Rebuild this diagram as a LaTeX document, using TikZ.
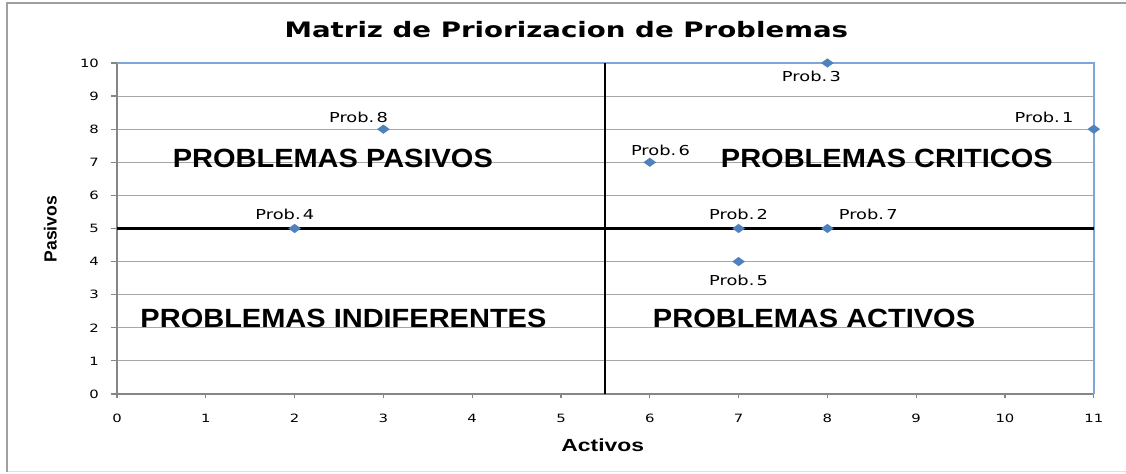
\documentclass[tikz,border=0pt]{standalone}
\usepackage{fontspec}
\usepackage{tikz}
\usetikzlibrary{shapes.geometric}
\usetikzlibrary{calc}
\newfontfamily\verdfont[FakeStretch=1.3]{DejaVu Sans}
\newfontfamily\arialfont[FakeStretch=1.3]{Liberation Sans}
\newfontfamily\quadfont[FakeStretch=1.1]{Liberation Sans}
\newfontfamily\plainarial{Liberation Sans}
\definecolor{markblue}{HTML}{4F81BD}
\definecolor{bordblue}{HTML}{7EA6D8}
\definecolor{gridgray}{HTML}{A6A6A6}
\definecolor{axisgray}{HTML}{868686}

\begin{document}
\begin{tikzpicture}[x=1.776cm,y=0.662cm]
      \tikzstyle{gridline} = [gridgray,line width=0.6pt]
      \tikzstyle{axisline} = [axisgray,line width=0.7pt]
      \tikzstyle{divider}  = [black,line width=1.2pt]
      \tikzstyle{plotedge} = [bordblue,line width=0.9pt]
      \tikzstyle{probmark}=[
        diamond,
        fill=markblue,
        inner sep=0pt,
        minimum width=7.4pt,
        minimum height=5.4pt,
      ]
      \tikzstyle{plabel}=[inner sep=0pt,font=\verdfont\fontsize{7.8}{9}\selectfont]
      \tikzstyle{ticklabel}=[inner sep=0pt,font=\verdfont\fontsize{6.5}{8}\selectfont]
      \tikzstyle{quadlabel}=[font=\quadfont\bfseries\fontsize{15}{18}\selectfont]

      \useasboundingbox (-1.318,-2.417) rectangle (11.363,11.903);
      % chart frame
      \draw[black!12,line width=0.6pt] (-1.239,-2.356) -- (11.363,-2.356);
      \draw[gray!75,line width=0.8pt] (-1.239,-2.356) -- (-1.239,11.81) -- (11.363,11.81);

      \node[font=\verdfont\bfseries\fontsize{12.1}{14}\selectfont] (title) at (5.06,11.0) {Matriz de Priorizacion de Problemas};

      % grid and axes
      \foreach \y in {1,...,9}
        \draw[gridline] (0,\y) -- (11,\y);
      \foreach \y in {0,...,10} {
        \draw[axisline] (-0.07,\y) -- (0,\y);
        \node[ticklabel,anchor=east] at (-0.2,\y) {\y};
      }
      \foreach \x in {0,...,11} {
        \draw[axisline] (\x,0) -- (\x,-0.13);
        \node[ticklabel] at (\x,-0.73) {\x};
      }
      \draw[axisline] (0,0) -- (11,0);
      \draw[axisline] (0,0) -- (0,10);
      \draw[plotedge] (0,10) -- (11,10) -- (11,0);

      \node[rotate=90,font=\plainarial\bfseries\fontsize{10}{12}\selectfont] (ylab) at (-0.75,4.98) {Pasivos};
      \node[font=\arialfont\bfseries\fontsize{10}{12}\selectfont] (xlab) at (5.47,-1.54) {Activos};

      % quadrant dividers
      \draw[divider] (5.5,0) -- (5.5,10);
      \draw[divider] (0,5) -- (11,5);

      \node[quadlabel] (pasivos) at (2.43,7.13) {PROBLEMAS PASIVOS};
      \node[quadlabel] (criticos) at (8.67,7.13) {PROBLEMAS CRITICOS};
      \node[quadlabel] (indif) at (2.55,2.27) {PROBLEMAS INDIFERENTES};
      \node[quadlabel] (activos) at (7.85,2.27) {PROBLEMAS ACTIVOS};

      \node[probmark] (p1) at (11,8) {};
      \node[probmark] (p2) at (7,5) {};
      \node[probmark] (p3) at (8,10) {};
      \node[probmark] (p4) at (2,5) {};
      \node[probmark] (p5) at (7,4) {};
      \node[probmark] (p6) at (6,7) {};
      \node[probmark] (p7) at (8,5) {};
      \node[probmark] (p8) at (3,8) {};

      \node[plabel] (l1) at ($(p1)+(-0.56,0.36)$) {Prob.\,1};
      \node[plabel] (l2) at ($(p2)+(0,0.42)$) {Prob.\,2};
      \node[plabel] (l3) at ($(p3)+(-0.18,-0.42)$) {Prob.\,3};
      \node[plabel] (l4) at ($(p4)+(-0.11,0.42)$) {Prob.\,4};
      \node[plabel] (l5) at ($(p5)+(0,-0.57)$) {Prob.\,5};
      \node[plabel] (l6) at ($(p6)+(0.12,0.36)$) {Prob.\,6};
      \node[plabel] (l7) at ($(p7)+(0.46,0.42)$) {Prob.\,7};
      \node[plabel] (l8) at ($(p8)+(-0.28,0.36)$) {Prob.\,8};
    \end{tikzpicture}
\end{document}
